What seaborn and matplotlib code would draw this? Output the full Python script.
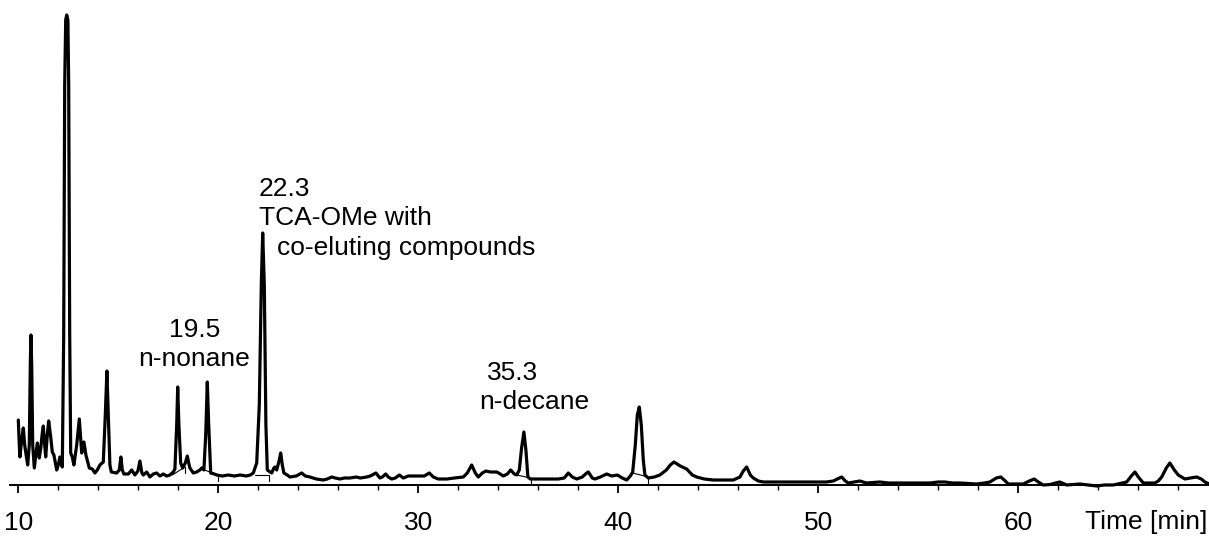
import matplotlib
matplotlib.use("Agg")
import matplotlib.pyplot as plt
from matplotlib.ticker import MultipleLocator
import seaborn as sns
import pandas as pd

# ---- chromatogram trace (retention time [min], detector signal [a.u.]) ----
time_min = [
    10.0, 10.05, 10.08, 10.17, 10.25, 10.32, 10.37, 10.47, 10.55, 10.6, 10.63, 10.67, 10.72, 10.8,
    10.88, 10.95, 11.05, 11.13, 11.2, 11.25, 11.32, 11.37, 11.45, 11.52, 11.62, 11.7, 11.78, 11.92,
    12.0, 12.08, 12.2, 12.27, 12.32, 12.37, 12.42, 12.48, 12.52, 12.57, 12.62, 12.7, 12.78, 12.92,
    13.05, 13.17, 13.28, 13.38, 13.55, 13.7, 13.83, 13.95, 14.08, 14.25, 14.35, 14.43, 14.5, 14.58,
    14.65, 14.92, 15.05, 15.13, 15.2, 15.28, 15.5, 15.67, 15.83, 15.98, 16.08, 16.18, 16.25, 16.42,
    16.58, 16.75, 16.92, 17.08, 17.25, 17.42, 17.58, 17.75, 17.83, 17.92, 17.97, 18.03, 18.12, 18.22,
    18.35, 18.45, 18.52, 18.58, 18.75, 18.92, 19.08, 19.17, 19.28, 19.37, 19.45, 19.52, 19.62, 19.8,
    19.92, 20.2, 20.5, 20.8, 21.1, 21.4, 21.6, 21.75, 21.92, 22.05, 22.15, 22.22, 22.3, 22.38,
    22.45, 22.67, 22.78, 22.83, 22.92, 23.05, 23.12, 23.2, 23.28, 23.45, 23.58,
    23.9, 24.17, 24.35, 24.58, 24.9, 25.25, 25.45, 25.67, 25.85, 26.08, 26.3, 26.58, 26.9, 27.1,
    27.42, 27.6, 27.88, 28.08, 28.2, 28.37, 28.5, 28.67, 28.85, 29.05, 29.25, 29.5, 30.0, 30.3,
    30.55, 30.75, 31.0, 31.42, 31.8, 32.25, 32.45, 32.67, 32.85, 33.0, 33.2, 33.38, 33.6, 33.92,
    34.1, 34.25, 34.45, 34.62, 34.8, 34.92, 35.05, 35.17, 35.28, 35.38, 35.48, 35.6, 36.0, 36.5,
    37.0, 37.3, 37.5, 37.7, 37.92, 38.2, 38.42,
    38.5, 38.7, 38.83, 39.1, 39.42, 39.67, 39.95, 40.2, 40.42, 40.6, 40.72, 40.85, 40.95, 41.05,
    41.15, 41.25, 41.33, 41.5, 41.8, 42.08, 42.4, 42.6, 42.78, 43.1, 43.42, 43.7, 43.92, 44.3,
    44.75, 45.25, 45.75, 46.08, 46.25, 46.42, 46.6, 46.75, 47.0, 47.25, 48.0, 48.8, 49.75, 50.4,
    50.75, 50.95, 51.17, 51.35, 51.5, 51.8, 52.08, 52.4, 53.08, 53.5,
    54.0, 54.75, 55.58, 56.0, 56.33, 56.7, 57.08, 57.92, 58.3, 58.58, 58.9, 59.12, 59.3, 59.5,
    59.9, 60.25, 60.55, 60.8, 61.0, 61.25, 61.6, 61.85, 62.08, 62.3, 62.42, 63.08, 63.5, 63.92,
    64.3, 64.75, 65.2, 65.42, 65.65, 65.83, 66.0, 66.25, 66.83, 67.0, 67.17, 67.4, 67.58, 67.8,
    68.0, 68.33, 68.6, 68.92, 69.15, 69.33, 69.55,
]
signal = [
    65, 40, 28, 45, 57, 40, 33, 20, 40, 120, 150, 120, 40, 17,
    30, 42, 27, 38, 52, 59, 40, 28, 50, 64, 48, 33, 30, 15,
    20, 28, 18, 150, 400, 465, 470, 465, 400, 150, 32, 28, 20, 40,
    66, 32, 43, 30, 17, 16, 12, 15, 20, 23, 70, 114, 70, 20,
    13, 12, 15, 28, 15, 11, 11, 15, 10, 14, 24, 12, 10, 13,
    8, 11, 12, 9, 11, 9, 10, 13, 16, 60, 98, 60, 22, 17,
    22, 29, 22, 17, 12, 13, 15, 17, 15, 50, 103, 60, 12, 11,
    10, 9, 10, 9, 10, 9, 10, 12, 22, 80, 200, 252, 200, 60,
    15, 12, 17, 18, 15, 25, 32, 20, 12, 10, 8,
    9, 12, 9, 8, 6, 5, 6, 8, 7, 6, 7, 7, 8, 7,
    8, 9, 12, 7, 8, 11, 8, 6, 7, 10, 7, 9, 9, 9,
    12, 8, 6, 6, 7, 8, 12, 20, 12, 8, 12, 14, 13, 13,
    11, 9, 11, 15, 11, 10, 15, 38, 53, 35, 8, 6, 6, 6,
    6, 7, 12, 8, 6, 8, 12,
    13, 7, 6, 8, 11, 9, 10, 7, 5, 9, 13, 40, 70, 78,
    60, 25, 10, 7, 8, 10, 15, 20, 23, 19, 16, 10, 8, 6,
    5, 5, 5, 8, 14, 18, 10, 7, 4, 3, 3, 3, 3, 3,
    4, 6, 8, 4, 2, 3, 4, 2, 3, 2,
    2, 2, 2, 3, 3, 2, 2, 1, 2, 3, 7, 8, 5, 1,
    1, 1, 4, 6, 3, 0, 0.5, 2, 3, 1, 0, 1, 0, -1,
    0, 0, 2, 3, 9, 13, 8, 2, 2, 4, 8, 17, 22, 15,
    10, 6, 7, 8, 6, 3, 1,
]

# ---- integration baselines drawn under selected peaks ----
base_t_start = [17.70, 19.17, 21.83, 34.92, 40.72]
base_s_start = [10, 16, 10, 10, 12]
base_t_end = [18.33, 20.00, 22.55, 35.62, 41.50]
base_s_end = [18, 10, 10, 7, 8]

# ---- peak annotations ----
label_lines = ["19.5", "n-nonane", "22.3", "TCA-OMe with", "co-eluting compounds", "35.3", "n-decane"]
label_t = [18.80, 18.80, 22.03, 22.03, 22.93, 33.42, 33.05]
label_s = [148, 119, 289, 260, 230, 105, 76]
label_ha = ["center", "center", "left", "left", "left", "left", "left"]

major_ticks = [10, 20, 30, 40, 50, 60]
axis_label = "Time [min]"

sns.set_theme(style="white")
plt.rcParams["font.family"] = ["Liberation Sans", "DejaVu Sans"]
plt.rcParams["font.size"] = 19
plt.rcParams["text.color"] = "black"

W, H = 1209, 536
fig = plt.figure(figsize=(W / 100, H / 100), dpi=100)
ax = fig.add_axes([10 / W, 51 / H, 1 - 10 / W, 1 - 51 / H])

df = pd.DataFrame({"t": time_min, "s": signal})
sns.lineplot(data=df, x="t", y="s", sort=False, estimator=None, color="black",
             linewidth=2.3, ax=ax, clip_on=False)

for t0, s0, t1, s1 in zip(base_t_start, base_s_start, base_t_end, base_s_end):
    ax.plot([t0, t1], [s0, s1], color="black", linewidth=0.8)
    ax.plot([t1, t1], [s1, s1 - 6], color="black", linewidth=0.8, clip_on=False)

for txt, t, s, ha in zip(label_lines, label_t, label_s, label_ha):
    ax.text(t, s, txt, ha=ha, va="baseline", fontsize=19, color="black")

ax.set_xlim(9.585, 69.535)
ax.set_ylim(0, 485)
for side in ["left", "right", "top"]:
    ax.spines[side].set_visible(False)
ax.spines["bottom"].set_linewidth(1.4)
ax.spines["bottom"].set_color("black")
ax.set_yticks([])
ax.set_xticks(major_ticks)
ax.set_xticklabels([str(v) for v in major_ticks])
ax.xaxis.set_minor_locator(MultipleLocator(2))
ax.tick_params(axis="x", which="major", direction="out", length=5.8, width=1.3,
               pad=13, labelsize=19, colors="black", labelcolor="black", bottom=True)
ax.tick_params(axis="x", which="minor", direction="out", length=3.6, width=1.0,
               colors="black", bottom=True)
ax.set_xlabel("")
ax.set_ylabel("")
ax.patch.set_alpha(0)

fig.text(1207 / W, (H - 529) / H, axis_label, ha="right", va="baseline",
         fontsize=19, color="black")

fig.savefig("out.png", dpi=100)
